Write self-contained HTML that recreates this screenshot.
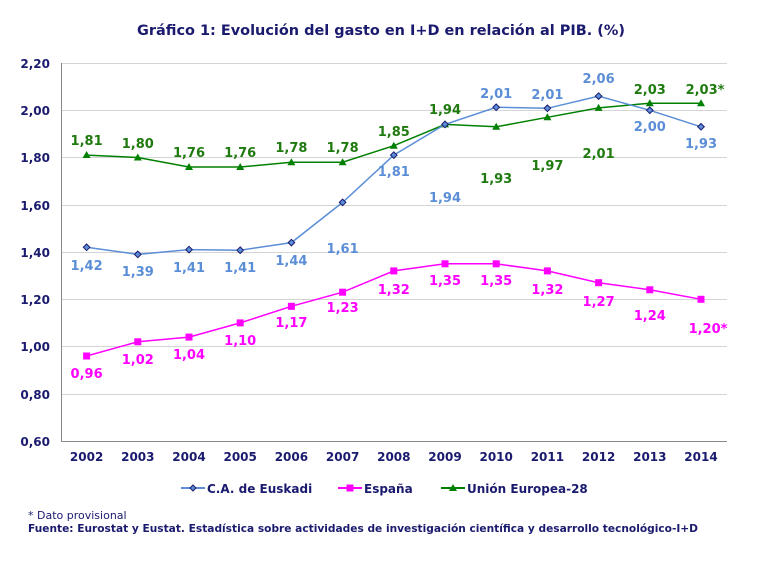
<!DOCTYPE html>
<html><head><meta charset="utf-8"><style>
html,body{margin:0;padding:0;background:#fff;}
svg{display:block;font-family:"DejaVu Sans","Liberation Sans",sans-serif;}
</style></head><body>
<svg width="759" height="570" viewBox="0 0 759 570" xmlns="http://www.w3.org/2000/svg">
<text x="137" y="35" textLength="488" lengthAdjust="spacingAndGlyphs" font-size="14" font-weight="bold" fill="#1a1a6e">Gráfico 1: Evolución del gasto en I+D en relación al PIB. (%)</text>
<g stroke="#d4d4d4" stroke-width="1">
<line x1="61" y1="63.5" x2="727" y2="63.5"/>
<line x1="61" y1="110.5" x2="727" y2="110.5"/>
<line x1="61" y1="157.5" x2="727" y2="157.5"/>
<line x1="61" y1="205.5" x2="727" y2="205.5"/>
<line x1="61" y1="252.5" x2="727" y2="252.5"/>
<line x1="61" y1="299.5" x2="727" y2="299.5"/>
<line x1="61" y1="346.5" x2="727" y2="346.5"/>
<line x1="61" y1="394.5" x2="727" y2="394.5"/>
</g>
<line x1="61.5" y1="63" x2="61.5" y2="441" stroke="#888" stroke-width="1"/>
<line x1="61" y1="441.5" x2="727" y2="441.5" stroke="#888" stroke-width="1"/>
<g font-size="12" font-weight="bold" fill="#1a1a6e" text-anchor="end">
<text x="50" y="68">2,20</text><text x="50" y="115">2,00</text><text x="50" y="162">1,80</text>
<text x="50" y="210">1,60</text><text x="50" y="257">1,40</text><text x="50" y="304">1,20</text>
<text x="50" y="351">1,00</text><text x="50" y="399">0,80</text><text x="50" y="446">0,60</text>
</g>
<g font-size="12" font-weight="bold" fill="#1a1a6e" text-anchor="middle">
<text x="86.6" y="461">2002</text><text x="137.8" y="461">2003</text><text x="189" y="461">2004</text>
<text x="240.2" y="461">2005</text><text x="291.4" y="461">2006</text><text x="342.6" y="461">2007</text>
<text x="393.8" y="461">2008</text><text x="445" y="461">2009</text><text x="496.2" y="461">2010</text>
<text x="547.4" y="461">2011</text><text x="598.6" y="461">2012</text><text x="649.8" y="461">2013</text>
<text x="701" y="461">2014</text>
</g>
<polyline fill="none" stroke="#008000" stroke-width="1.5" points="86.6,155.1 137.8,157.5 189,167 240.2,167 291.4,162.2 342.6,162.2 393.8,145.7 445,124.4 496.2,126.8 547.4,117.3 598.6,107.9 649.8,103.2 701,103.2"/>
<g fill="#008000">
<polygon points="86.6,151 82.6,158 90.6,158"/><polygon points="137.8,153.5 133.8,160.5 141.8,160.5"/>
<polygon points="189,163 185,170 193,170"/><polygon points="240.2,163 236.2,170 244.2,170"/>
<polygon points="291.4,158.2 287.4,165.2 295.4,165.2"/><polygon points="342.6,158.2 338.6,165.2 346.6,165.2"/>
<polygon points="393.8,141.7 389.8,148.7 397.8,148.7"/><polygon points="445,120.4 441,127.4 449,127.4"/>
<polygon points="496.2,122.8 492.2,129.8 500.2,129.8"/><polygon points="547.4,113.3 543.4,120.3 551.4,120.3"/>
<polygon points="598.6,103.9 594.6,110.9 602.6,110.9"/><polygon points="649.8,99.2 645.8,106.2 653.8,106.2"/>
<polygon points="701,99.2 697,106.2 705,106.2"/>
</g>
<polyline fill="none" stroke="#5b8ed6" stroke-width="1.5" points="86.6,247.3 137.8,254.4 189,249.6 240.2,250.2 291.4,242.6 342.6,202.4 393.8,155.1 445,124.4 496.2,107.3 547.4,108.3 598.6,96.1 649.8,110.3 701,126.8"/>
<g fill="#5b8ed6" stroke="#1a1a6e" stroke-width="1">
<polygon points="86.6,244 89.9,247.3 86.6,250.6 83.3,247.3"/><polygon points="137.8,251.1 141.1,254.4 137.8,257.7 134.5,254.4"/>
<polygon points="189,246.3 192.3,249.6 189,252.9 185.7,249.6"/><polygon points="240.2,246.9 243.5,250.2 240.2,253.5 236.9,250.2"/>
<polygon points="291.4,239.3 294.7,242.6 291.4,245.9 288.1,242.6"/><polygon points="342.6,199.1 345.9,202.4 342.6,205.7 339.3,202.4"/>
<polygon points="393.8,151.8 397.1,155.1 393.8,158.4 390.5,155.1"/><polygon points="445,121.1 448.3,124.4 445,127.7 441.7,124.4"/>
<polygon points="496.2,104 499.5,107.3 496.2,110.6 492.9,107.3"/><polygon points="547.4,105 550.7,108.3 547.4,111.6 544.1,108.3"/>
<polygon points="598.6,92.8 601.9,96.1 598.6,99.4 595.3,96.1"/><polygon points="649.8,107 653.1,110.3 649.8,113.6 646.5,110.3"/>
<polygon points="701,123.5 704.3,126.8 701,130.1 697.7,126.8"/>
</g>
<polyline fill="none" stroke="#ff00ff" stroke-width="1.5" points="86.6,356 137.8,341.8 189,337.1 240.2,322.9 291.4,306.3 342.6,292.2 393.8,270.9 445,263.8 496.2,263.8 547.4,270.9 598.6,282.7 649.8,289.8 701,299.3"/>
<g fill="#ff00ff">
<rect x="83.1" y="352.5" width="7" height="7"/><rect x="134.3" y="338.3" width="7" height="7"/>
<rect x="185.5" y="333.6" width="7" height="7"/><rect x="236.7" y="319.4" width="7" height="7"/>
<rect x="287.9" y="302.8" width="7" height="7"/><rect x="339.1" y="288.7" width="7" height="7"/>
<rect x="390.3" y="267.4" width="7" height="7"/><rect x="441.5" y="260.3" width="7" height="7"/>
<rect x="492.7" y="260.3" width="7" height="7"/><rect x="543.9" y="267.4" width="7" height="7"/>
<rect x="595.1" y="279.2" width="7" height="7"/><rect x="646.3" y="286.3" width="7" height="7"/>
<rect x="697.5" y="295.8" width="7" height="7"/>
</g>
<g font-size="13" font-weight="bold" fill="#1f7a0f" text-anchor="middle">
<text x="86.6" y="145">1,81</text><text x="137.8" y="148">1,80</text><text x="189" y="157">1,76</text>
<text x="240.2" y="157">1,76</text><text x="291.4" y="152">1,78</text><text x="342.6" y="152">1,78</text>
<text x="393.8" y="136">1,85</text><text x="445" y="114">1,94</text><text x="496.2" y="183">1,93</text>
<text x="547.4" y="170">1,97</text><text x="598.6" y="158">2,01</text><text x="649.8" y="94">2,03</text>
<text x="705" y="94">2,03*</text>
</g>
<g font-size="13" font-weight="bold" fill="#5b8ed6" text-anchor="middle">
<text x="86.6" y="270">1,42</text><text x="137.8" y="276">1,39</text><text x="189" y="272">1,41</text>
<text x="240.2" y="272">1,41</text><text x="291.4" y="265">1,44</text><text x="342.6" y="253">1,61</text>
<text x="393.8" y="176">1,81</text><text x="445" y="202">1,94</text><text x="496.2" y="98">2,01</text>
<text x="547.4" y="99">2,01</text><text x="598.6" y="83">2,06</text><text x="649.8" y="131">2,00</text>
<text x="701" y="148">1,93</text>
</g>
<g font-size="13" font-weight="bold" fill="#ff00ff" text-anchor="middle">
<text x="86.6" y="378">0,96</text><text x="137.8" y="364">1,02</text><text x="189" y="359">1,04</text>
<text x="240.2" y="345">1,10</text><text x="291.4" y="327">1,17</text><text x="342.6" y="312">1,23</text>
<text x="393.8" y="294">1,32</text><text x="445" y="285">1,35</text><text x="496.2" y="285">1,35</text>
<text x="547.4" y="294">1,32</text><text x="598.6" y="306">1,27</text><text x="649.8" y="320">1,24</text>
<text x="708" y="333">1,20*</text>
</g>
<line x1="181" y1="488" x2="205" y2="488" stroke="#5b8ed6" stroke-width="2"/>
<polygon points="193,485 196,488 193,491 190,488" fill="#5b8ed6" stroke="#1a1a6e" stroke-width="1"/>
<text x="207" y="493" font-size="12" font-weight="bold" fill="#1a1a6e">C.A. de Euskadi</text>
<line x1="338" y1="488" x2="362" y2="488" stroke="#ff00ff" stroke-width="2"/>
<rect x="346.5" y="484.5" width="7" height="7" fill="#ff00ff"/>
<text x="364" y="493" font-size="12" font-weight="bold" fill="#1a1a6e">España</text>
<line x1="441" y1="488" x2="465" y2="488" stroke="#008000" stroke-width="2"/>
<polygon points="453,484 449,491 457,491" fill="#008000"/>
<text x="467" y="493" font-size="12" font-weight="bold" fill="#1a1a6e">Unión Europea-28</text>
<text x="28" y="519" font-size="11" fill="#1a1a6e">* Dato provisional</text>
<text x="28" y="532" textLength="670" lengthAdjust="spacingAndGlyphs" font-size="11" font-weight="bold" fill="#1a1a6e">Fuente: Eurostat y Eustat. Estadística sobre actividades de investigación científica y desarrollo tecnológico-I+D</text>
</svg>
</body></html>
